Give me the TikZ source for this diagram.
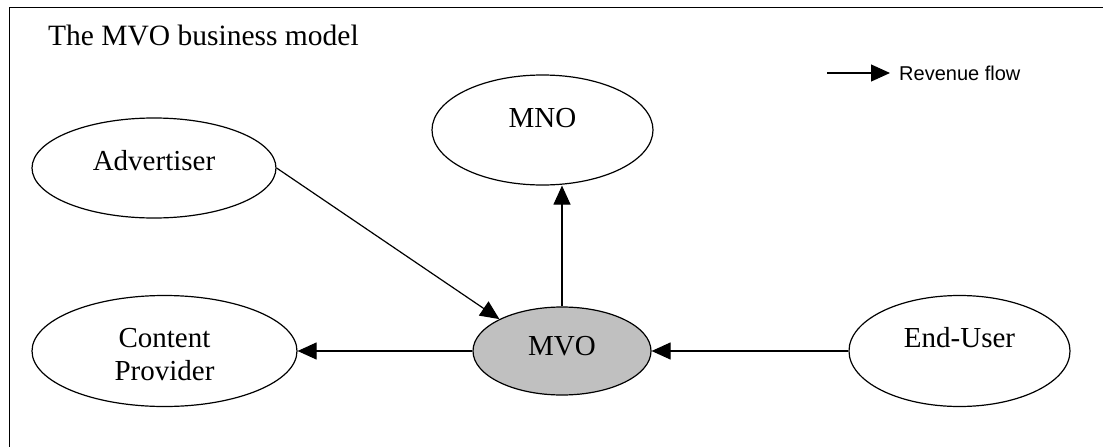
\documentclass[tikz,border=0pt]{standalone}
\usepackage{fontspec}
\setmainfont{Liberation Serif}
\newfontfamily\legfont{Liberation Sans}
\usetikzlibrary{shapes.geometric,arrows.meta}
\definecolor{mvogray}{RGB}{192,192,192}
\tikzset{
  party/.style={ellipse, draw, line width=1.2pt, inner sep=0pt,
    text height=0pt, text depth=0pt, font=\fontsize{29}{33}\selectfont},
  flow/.style={line width=1.2pt, -{Triangle[length=19pt,width=17pt]}}
}
\begin{document}
\begin{tikzpicture}[x=1pt, y=-1pt]
\useasboundingbox (0,0) rectangle (1103,447);
% frame
\draw[line width=1.2pt] (9.5,447) -- (9.5,7.5) -- (1103,7.5);
\node[anchor=base west, inner sep=0pt, font=\fontsize{29.5}{33}\selectfont] (title) at (48,45) {The MVO business model};
% legend
\node[anchor=base west, inner sep=0pt, font=\legfont\fontsize{20}{24}\selectfont] (legtxt) at (899,80) {Revenue flow};
\coordinate (legstart) at (827,73);
\draw[flow, shorten >=9pt] (legstart) -- (legstart -| legtxt.west);
% parties
\node[party, minimum width=244pt, minimum height=100pt, text height=4pt] (adv) at (154,168) {Advertiser};
\node[party, minimum width=221pt, minimum height=110pt, text depth=6pt] (mno) at (542.5,130) {MNO};
\node[party, minimum width=265pt, minimum height=111pt, text height=58pt, align=center] (cp) at (164.5,351) {Content\\Provider};
\node[party, minimum width=178pt, minimum height=88pt, fill=mvogray, text height=8pt] (mvo) at (562,351) {MVO};
\node[party, minimum width=221pt, minimum height=111pt, text depth=8pt] (eu) at (959.5,351) {End-User};
% revenue flows
\draw[flow] (adv.east) -- (mvo.153);
\draw[flow] (mvo.north) -- (mvo.north |- mno.south);
\draw[flow] (mvo.west) -- (cp.east);
\draw[flow] (eu.west) -- (mvo.east);
\end{tikzpicture}
\end{document}
